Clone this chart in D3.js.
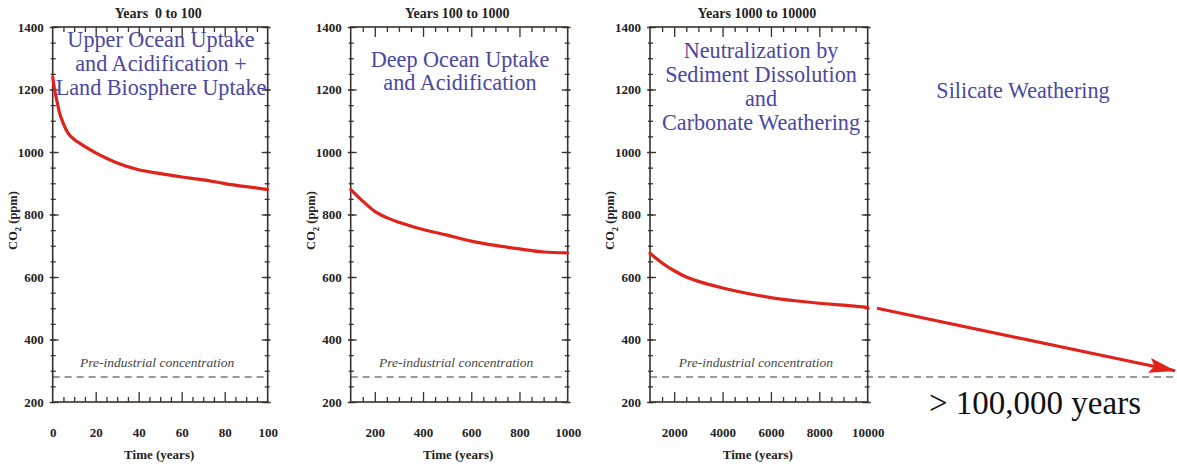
<!DOCTYPE html>
<html>
<head>
<meta charset="utf-8">
<script src="https://cdn.jsdelivr.net/npm/d3@7"></script>
<style>
  html, body { margin: 0; padding: 0; background: #fff; }
  svg { display: block; }
  text { font-family: "Liberation Serif", "Times New Roman", serif; }
</style>
</head>
<body>
<svg id="chart" width="1177" height="467"></svg>
<script>
// ---------------- DATA ----------------
const panelTitles = ["Years  0 to 100", "Years 100 to 1000", "Years 1000 to 10000"];

const p1Years = [0, 1, 2, 3, 5, 7, 10, 13, 16, 20, 25, 30, 40, 50, 60, 70, 80, 90, 100];
const p1CO2   = [1240, 1195, 1162, 1130, 1090, 1062, 1040, 1026, 1013, 997, 980, 965, 943, 931, 920, 911, 899, 889, 880];

const p2Years = [100, 150, 200, 250, 300, 400, 500, 600, 700, 800, 900, 1000];
const p2CO2   = [880, 843, 810, 790, 775, 752, 734, 715, 701, 690, 680, 677];

const p3Years = [1000, 1500, 2000, 2500, 3000, 4000, 5000, 6000, 7000, 8000, 9000, 10000];
const p3CO2   = [676, 645, 620, 600, 586, 565, 548, 534, 524, 516, 510, 503];

const xDomains = [[0, 100], [100, 1000], [1000, 10000]];
const xTickLabels1 = [0, 20, 40, 60, 80, 100];
const xTickLabels2 = [200, 400, 600, 800, 1000];
const xTickLabels3 = [2000, 4000, 6000, 8000, 10000];
const xMinorStep = [5, 50, 500];
const xMajorStep = [20, 200, 2000];

const yTickLabels = [200, 400, 600, 800, 1000, 1200, 1400];
const yMinorStep = 50;

const preIndustrial = 280;
const preIndustrialLabel = "Pre-industrial concentration";

const annotations = [
  ["Upper Ocean Uptake", "and Acidification +", "Land Biosphere Uptake"],
  ["Deep Ocean Uptake", "and Acidification"],
  ["Neutralization by", "Sediment Dissolution", "and", "Carbonate Weathering"]
];
const silicateLabel = "Silicate Weathering";
const arrowYears = [10000, 100000];
const arrowCO2 = [500, 300];
const longTermLabel = "> 100,000 years";

// ---------------- LAYOUT ----------------
const svg = d3.select("#chart");
const plotTop = 27, plotBottom = 402;
const panelX = [[52.7, 267.7], [350.7, 567.7], [650, 867.7]];
const annBaseline = [[47, 71, 95], [67, 90], [58, 82, 106, 130]];
const annCenter = [161, 460, 761];

const frameColor = "#3a302c";
const textColor = "#222";
const annColor = "#4a47a3";
const red = "#e0231a";

const y = d3.scaleLinear().domain([200, 1400]).range([plotBottom, plotTop]);

const seriesYears = [p1Years, p2Years, p3Years];
const seriesCO2 = [p1CO2, p2CO2, p3CO2];
const xTickLabels = [xTickLabels1, xTickLabels2, xTickLabels3];

const defs = svg.append("defs");
defs.append("marker")
  .attr("id", "arrowhead")
  .attr("markerUnits", "userSpaceOnUse")
  .attr("viewBox", "-28 -9 30 18")
  .attr("refX", 0).attr("refY", 0)
  .attr("markerWidth", 30).attr("markerHeight", 18)
  .attr("orient", "auto")
  .append("path")
  .attr("d", "M1,0 L-26,-7.5 L-21,0 L-26,7.5 Z")
  .attr("fill", red);

function range(a, b, step) {
  const out = [];
  for (let v = a; v <= b + 1e-9; v += step) out.push(v);
  return out;
}

const yMinor = range(200, 1400, yMinorStep);

panelX.forEach((px, i) => {
  const x = d3.scaleLinear().domain(xDomains[i]).range(px);
  const g = svg.append("g");
  const dom = xDomains[i];
  const minorVals = range(dom[0], dom[1], xMinorStep[i]).filter(v => Math.abs(v % xMajorStep[i]) > 1e-6 && v > dom[0] && v < dom[1]);
  const majorVals = range(0, dom[1], xMajorStep[i]).filter(v => v > dom[0] && v < dom[1]);

  // pre-industrial dashed line
  const dashEnd = i === 2 ? 1177 : px[1];
  g.append("line")
    .attr("x1", px[0]).attr("x2", dashEnd)
    .attr("y1", y(preIndustrial)).attr("y2", y(preIndustrial))
    .attr("stroke", "#9a9a9a").attr("stroke-width", 2)
    .attr("stroke-dasharray", "7,5");

  g.append("text")
    .attr("x", (px[0] + px[1]) / 2 - 3).attr("y", y(preIndustrial) - 10)
    .attr("text-anchor", "middle")
    .attr("font-style", "italic").attr("font-size", 13.5)
    .attr("fill", "#444")
    .text(preIndustrialLabel);

  // bottom axis: minor ticks
  g.append("g").attr("transform", `translate(0,${plotBottom})`)
    .call(d3.axisBottom(x).tickValues(minorVals).tickFormat("").tickSize(-5))
    .call(a => a.select(".domain").remove());
  // bottom axis: major ticks
  g.append("g").attr("transform", `translate(0,${plotBottom})`)
    .call(d3.axisBottom(x).tickValues(majorVals).tickFormat("").tickSize(-10))
    .call(a => a.select(".domain").remove());
  // bottom labels
  g.append("g").attr("transform", `translate(0,${plotBottom})`)
    .call(d3.axisBottom(x).tickValues(xTickLabels[i]).tickFormat(d3.format("d")).tickSize(0).tickPadding(26))
    .call(a => a.select(".domain").remove());

  // top axis
  g.append("g").attr("transform", `translate(0,${plotTop})`)
    .call(d3.axisTop(x).tickValues(minorVals).tickFormat("").tickSize(-5))
    .call(a => a.select(".domain").remove());
  g.append("g").attr("transform", `translate(0,${plotTop})`)
    .call(d3.axisTop(x).tickValues(majorVals).tickFormat("").tickSize(-10))
    .call(a => a.select(".domain").remove());

  // left axis
  g.append("g").attr("transform", `translate(${px[0]},0)`)
    .call(d3.axisLeft(y).tickValues(yMinor).tickFormat("").tickSize(-3))
    .call(a => a.select(".domain").remove())
    .call(a => a.selectAll(".tick line").attr("x1", -2));
  g.append("g").attr("transform", `translate(${px[0]},0)`)
    .call(d3.axisLeft(y).tickValues(yTickLabels).tickFormat(d3.format("d")).tickSize(-6).tickPadding(9))
    .call(a => a.select(".domain").remove())
    .call(a => a.selectAll(".tick line").attr("x1", -3));

  // right axis
  g.append("g").attr("transform", `translate(${px[1]},0)`)
    .call(d3.axisRight(y).tickValues(yMinor).tickFormat("").tickSize(-3))
    .call(a => a.select(".domain").remove())
    .call(a => a.selectAll(".tick line").attr("x1", 2));
  g.append("g").attr("transform", `translate(${px[1]},0)`)
    .call(d3.axisRight(y).tickValues(yTickLabels).tickFormat("").tickSize(-6))
    .call(a => a.select(".domain").remove())
    .call(a => a.selectAll(".tick line").attr("x1", 3));

  g.selectAll(".tick line").attr("stroke", frameColor).attr("stroke-width", 1.3);
  g.selectAll(".tick text")
    .attr("fill", textColor)
    .attr("font-family", "Liberation Serif, Times New Roman, serif")
    .attr("font-size", 13).attr("font-weight", "bold");

  // frame
  g.append("rect")
    .attr("x", px[0]).attr("y", plotTop)
    .attr("width", px[1] - px[0]).attr("height", plotBottom - plotTop)
    .attr("fill", "none").attr("stroke", frameColor).attr("stroke-width", 1.6);

  // title
  g.append("text")
    .attr("x", (px[0] + px[1]) / 2 - 2).attr("y", 18)
    .attr("text-anchor", "middle")
    .attr("font-size", 14).attr("font-weight", "bold")
    .attr("fill", textColor)
    .attr("xml:space", "preserve")
    .style("white-space", "pre")
    .text(panelTitles[i]);

  // x title
  g.append("text")
    .attr("x", (px[0] + px[1]) / 2 - 1).attr("y", 459)
    .attr("text-anchor", "middle")
    .attr("font-size", 13).attr("font-weight", "bold")
    .attr("fill", textColor)
    .text("Time (years)");

  // y title
  const yt = g.append("text")
    .attr("transform", `translate(${px[0] - 36},${(plotTop + plotBottom) / 2 + 6}) rotate(-90)`)
    .attr("text-anchor", "middle")
    .attr("font-size", 12.5).attr("font-weight", "bold")
    .attr("fill", textColor);
  yt.append("tspan").text("CO");
  yt.append("tspan").attr("font-size", 8.5).attr("dy", 4).text("2");
  yt.append("tspan").attr("dy", -4).text(" (ppm)");

  // curve
  const line = d3.line().x(d => x(d[0])).y(d => y(d[1])).curve(d3.curveMonotoneX);
  const pts = seriesYears[i].map((t, k) => [t, seriesCO2[i][k]]);
  g.append("path")
    .attr("d", line(pts))
    .attr("fill", "none").attr("stroke", red)
    .attr("stroke-width", 3.2).attr("stroke-linecap", "round");

  // annotation text
  annotations[i].forEach((s, k) => {
    g.append("text")
      .attr("x", annCenter[i]).attr("y", annBaseline[i][k])
      .attr("text-anchor", "middle")
      .attr("font-size", 22.2)
      .attr("fill", annColor)
      .text(s);
  });
});

// ---------------- LONG-TERM ARROW ----------------
const xArrow = d3.scaleLinear().domain(arrowYears).range([877, 1175]);
svg.append("path")
  .attr("d", d3.line().x(d => xArrow(d[0])).y(d => y(d[1]))(arrowYears.map((t, k) => [t, arrowCO2[k]])))
  .attr("fill", "none").attr("stroke", red).attr("stroke-width", 3.2)
  .attr("marker-end", "url(#arrowhead)");

svg.append("text")
  .attr("x", 1023).attr("y", 98)
  .attr("text-anchor", "middle")
  .attr("font-size", 22.2)
  .attr("fill", annColor)
  .text(silicateLabel);

svg.append("text")
  .attr("x", 929).attr("y", 414)
  .attr("font-size", 33)
  .attr("fill", "#111")
  .text(longTermLabel);
</script>
</body>
</html>
